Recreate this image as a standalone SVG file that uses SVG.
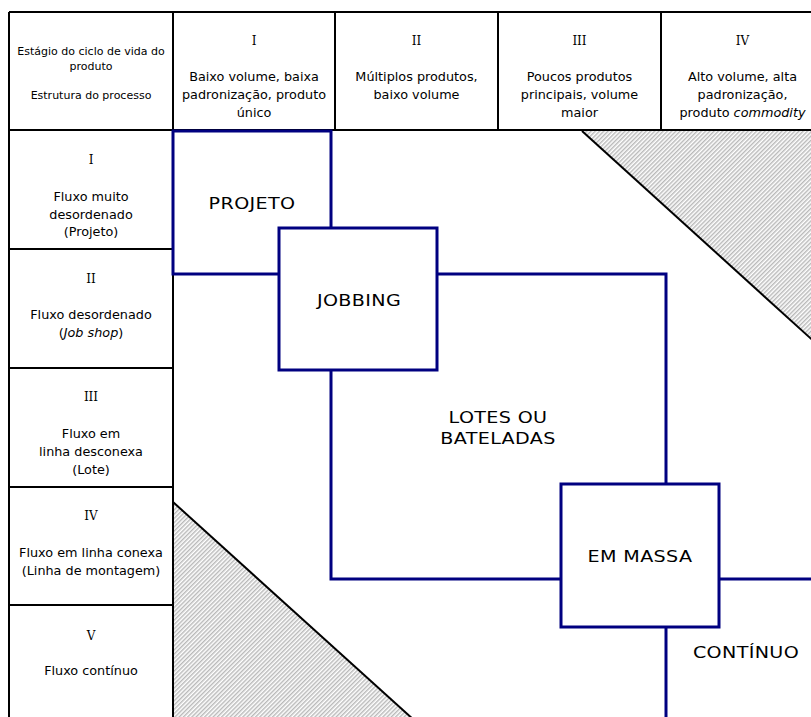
<svg xmlns="http://www.w3.org/2000/svg" width="811" height="717" viewBox="0 0 811 717">
  <style>
    .grid { fill: none; stroke: #000; stroke-width: 2; }
    .box rect { fill: #fff; stroke: #000080; stroke-width: 3; }
    .link { fill: none; stroke: #000080; stroke-width: 3; }
    .hdr { font-family: "DejaVu Sans", "Liberation Sans", sans-serif; font-size: 12.8px; fill: #000; text-anchor: middle; }
    .small { font-size: 11px; }
    .num { font-family: "DejaVu Serif", "Liberation Serif", serif; font-size: 12px; fill: #000; text-anchor: middle; }
    .lbl { font-family: "DejaVu Sans", "Liberation Sans", sans-serif; font-size: 16.5px; letter-spacing: 0.3px; fill: #000; text-anchor: middle; }
    .hatch { fill: url(#hatch); stroke: none; }
    .edge { fill: none; stroke: #000; stroke-width: 2; }
  </style>
  <defs>
    <pattern id="hatch" width="3" height="3" patternUnits="userSpaceOnUse" patternTransform="rotate(45)">
      <rect width="3" height="3" fill="#fff"/>
      <line x1="0.75" y1="0" x2="0.75" y2="3" stroke="#b2b2b2" stroke-width="1.3"/>
    </pattern>
  </defs>

  <rect width="811" height="717" fill="#fff"/>

  <!-- shaded corners outside the diagonal -->
  <g id="shade-top">
    <polygon class="hatch" points="582,131 830,131 830,356"/>
    <line class="edge" x1="582" y1="131" x2="830" y2="356"/>
  </g>
  <g id="shade-bottom">
    <polygon class="hatch" points="173,502 173,730 425,730"/>
    <line class="edge" x1="173" y1="502" x2="425" y2="730"/>
  </g>

  <!-- table frame -->
  <g id="table">
    <path class="grid" d="M9,12 H830 M9,130 H830 M9,12 V730 M173,12 V730 M335,12 V130 M498,12 V130 M661,12 V130 M9,249 H173 M9,368 H173 M9,487 H173 M9,605 H173"/>
  </g>

  <!-- header cells -->
  <g id="header-corner">
    <text class="hdr small" x="91" y="55">Estágio do ciclo de vida do</text>
    <text class="hdr small" x="91" y="70">produto</text>
    <text class="hdr small" x="91" y="99">Estrutura do processo</text>
  </g>
  <g id="col-1">
    <text class="num" x="254" y="45">I</text>
    <text class="hdr" x="254" y="81">Baixo volume, baixa</text>
    <text class="hdr" x="254" y="99">padronização, produto</text>
    <text class="hdr" x="254" y="117">único</text>
  </g>
  <g id="col-2">
    <text class="num" x="416.5" y="45">II</text>
    <text class="hdr" x="416.5" y="81">Múltiplos produtos,</text>
    <text class="hdr" x="416.5" y="99">baixo volume</text>
  </g>
  <g id="col-3">
    <text class="num" x="579.5" y="45">III</text>
    <text class="hdr" x="579.5" y="81">Poucos produtos</text>
    <text class="hdr" x="579.5" y="99">principais, volume</text>
    <text class="hdr" x="579.5" y="117">maior</text>
  </g>
  <g id="col-4">
    <text class="num" x="742.5" y="45">IV</text>
    <text class="hdr" x="742.5" y="81">Alto volume, alta</text>
    <text class="hdr" x="742.5" y="99">padronização,</text>
    <text class="hdr" x="742.5" y="117">produto <tspan font-style="italic">commodity</tspan></text>
  </g>

  <!-- row headers -->
  <g id="row-1">
    <text class="num" x="91" y="164">I</text>
    <text class="hdr" x="91" y="201">Fluxo muito</text>
    <text class="hdr" x="91" y="219">desordenado</text>
    <text class="hdr" x="91" y="236">(Projeto)</text>
  </g>
  <g id="row-2">
    <text class="num" x="91" y="283">II</text>
    <text class="hdr" x="91" y="319">Fluxo desordenado</text>
    <text class="hdr" x="91" y="337">(<tspan font-style="italic">Job shop</tspan>)</text>
  </g>
  <g id="row-3">
    <text class="num" x="91" y="401">III</text>
    <text class="hdr" x="91" y="438">Fluxo em</text>
    <text class="hdr" x="91" y="456">linha desconexa</text>
    <text class="hdr" x="91" y="474">(Lote)</text>
  </g>
  <g id="row-4">
    <text class="num" x="91" y="520">IV</text>
    <text class="hdr" x="91" y="557">Fluxo em linha conexa</text>
    <text class="hdr" x="91" y="575">(Linha de montagem)</text>
  </g>
  <g id="row-5">
    <text class="num" x="91" y="640">V</text>
    <text class="hdr" x="91" y="675">Fluxo contínuo</text>
  </g>

  <!-- connectors between process types -->
  <g id="connectors">
    <path class="link" d="M437,274 H666 V484"/>
    <path class="link" d="M331,370 V579 H561"/>
    <path class="link" d="M719,579 H830"/>
    <path class="link" d="M666,627 V730"/>
  </g>

  <!-- process type boxes; labels are widened horizontally -->
  <g id="projeto" class="box">
    <rect x="173" y="131" width="158" height="143"/>
    <text class="lbl" transform="translate(252,209) scale(1.16,1)">PROJETO</text>
  </g>
  <g id="jobbing" class="box">
    <rect x="279" y="228" width="158" height="142"/>
    <text class="lbl" transform="translate(359,306) scale(1.16,1)">JOBBING</text>
  </g>
  <g id="lotes">
    <text class="lbl" transform="translate(498,423) scale(1.16,1)">LOTES OU</text>
    <text class="lbl" transform="translate(498,444) scale(1.16,1)">BATELADAS</text>
  </g>
  <g id="em-massa" class="box">
    <rect x="561" y="484" width="158" height="143"/>
    <text class="lbl" transform="translate(640,562) scale(1.16,1)">EM MASSA</text>
  </g>
  <g id="continuo">
    <text class="lbl" transform="translate(746,658) scale(1.16,1)">CONTÍNUO</text>
  </g>
</svg>
